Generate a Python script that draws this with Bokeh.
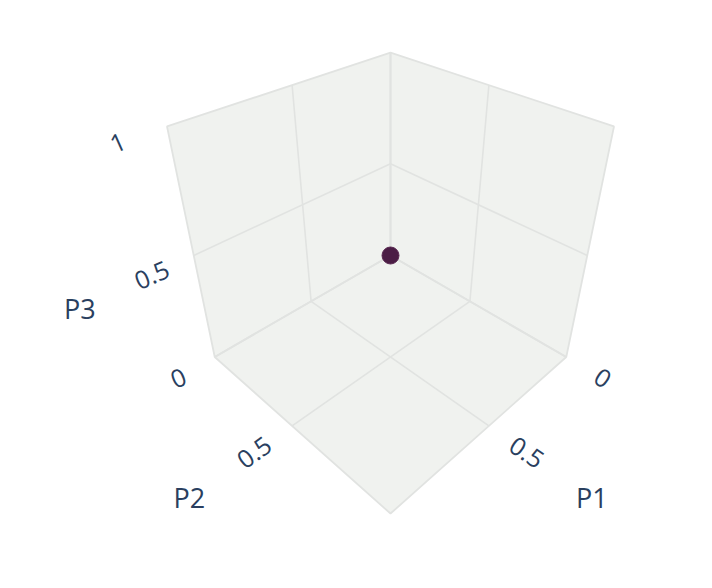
import numpy as np
from bokeh.plotting import figure
from bokeh.models import Range1d, ColumnDataSource
from bokeh.core.properties import value
from bokeh.embed import file_html
from bokeh.resources import INLINE

# ---- data ----
P1 = [0.5]
P2 = [0.5]
P3 = [0.5]
axis_range = [0.0, 1.0]
grid_vals = [0.5]
p1_ticks = [0.0, 0.5]
p1_tick_labels = ["0", "0.5"]
p2_ticks = [0.5]
p2_tick_labels = ["0.5"]
p3_ticks = [0.0, 0.5, 1.0]
p3_tick_labels = ["0", "0.5", "1"]
axis_titles = ["P1", "P2", "P3"]

# ---- camera (view from (1,1,1), perspective) ----
D = 4.83
F = 672.0
CX, CY = 390.0, 255.0
lo, hi = axis_range


def world(v):
    return 2.0 * (np.asarray(v, dtype=float) - lo) / (hi - lo) - 1.0


def proj_w(X, Y, Z):
    X, Y, Z = (np.asarray(a, dtype=float) for a in (X, Y, Z))
    r = (-X + Y) / np.sqrt(2)
    u = (-X - Y + 2 * Z) / np.sqrt(6)
    d = (X + Y + Z) / np.sqrt(3)
    depth = D - d
    return CX + F * r / depth, CY - F * u / depth


def proj(a, b, c):
    return proj_w(world(a), world(b), world(c))


WALL = "#f0f2ef"
GRID = "#e1e3e1"
TXT = "#2a3f5f"

p = figure(width=696, height=572, x_range=Range1d(0, 696), y_range=Range1d(572, 0),
           output_backend="svg", toolbar_location=None, min_border=0)
p.axis.visible = False
p.grid.visible = False
p.outline_line_color = None
p.background_fill_color = "white"

# walls: P1=lo (right), P2=lo (left), P3=lo (floor)
walls = [
    ([lo, lo, lo, lo], [lo, hi, hi, lo], [lo, lo, hi, hi]),
    ([lo, hi, hi, lo], [lo, lo, lo, lo], [lo, lo, hi, hi]),
    ([lo, hi, hi, lo], [lo, lo, hi, hi], [lo, lo, lo, lo]),
]
xs, ys = [], []
for a, b, c in walls:
    sx, sy = proj(a, b, c)
    xs.append(list(sx))
    ys.append(list(sy))
p.patches(xs, ys, fill_color=WALL, line_color=None)

# grid lines
gx, gy = [], []
for g in grid_vals:
    segs = [
        ([lo, lo], [g, g], [lo, hi]), ([lo, lo], [lo, hi], [g, g]),   # right wall
        ([g, g], [lo, lo], [lo, hi]), ([lo, hi], [lo, lo], [g, g]),   # left wall
        ([g, g], [lo, hi], [lo, lo]), ([lo, hi], [g, g], [lo, lo]),   # floor
    ]
    for a, b, c in segs:
        sx, sy = proj(a, b, c)
        gx.append(list(sx))
        gy.append(list(sy))
p.multi_line(gx, gy, line_color=GRID, line_width=1.6)

# wall edges
for a, b, c in walls:
    sx, sy = proj(a + [a[0]], b + [b[0]], c + [c[0]])
    p.line(list(sx), list(sy), line_color=GRID, line_width=1.8)

# tick labels (offset outward in world space)
OFF = 0.33
font = value("Open Sans")
wl = world([lo, hi])
tx, ty, tt, ta = [], [], [], []
for v, lab in zip(p1_ticks, p1_tick_labels):
    sx, sy = proj_w(world(v), wl[1] + OFF, wl[0])
    tx.append(float(sx)); ty.append(float(sy)); tt.append(lab); ta.append(np.radians(-34))
for v, lab in zip(p2_ticks, p2_tick_labels):
    sx, sy = proj_w(wl[1] + OFF, world(v), wl[0])
    tx.append(float(sx)); ty.append(float(sy)); tt.append(lab); ta.append(np.radians(36))
for v, lab in zip(p3_ticks, p3_tick_labels):
    sx, sy = proj_w(wl[1] + OFF, wl[0], world(v))
    tx.append(float(sx)); ty.append(float(sy)); tt.append(lab); ta.append(np.radians(24))
p.text(x=tx, y=ty, text=tt, angle=ta, text_font=font, text_font_size="25px",
       text_color=TXT, text_align="center", text_baseline="middle")

# axis titles
TOFF = 0.84
mid = world((lo + hi) / 2)
t1 = proj_w(mid, wl[1] + TOFF, wl[0])
t2 = proj_w(wl[1] + TOFF, mid, wl[0])
t3 = proj_w(wl[1] + TOFF, wl[0], mid)
p.text(x=[float(t1[0]), float(t2[0]), float(t3[0])],
       y=[float(t1[1]), float(t2[1]), float(t3[1])],
       text=axis_titles, text_font=font, text_font_size="27px",
       text_color=TXT, text_align="center", text_baseline="middle")

# data point
px, py = proj(P1, P2, P3)
src = ColumnDataSource(dict(x=list(px), y=list(py)))
p.scatter("x", "y", source=src, size=17, fill_color="#4b1d45", line_color="#5a2a52",
          line_width=1)

open("out.html", "w").write(file_html(p, INLINE))
